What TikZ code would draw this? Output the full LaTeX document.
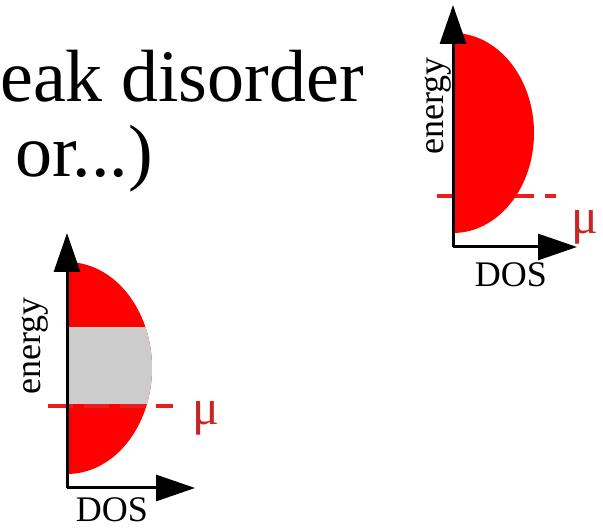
\documentclass[tikz,border=0pt]{standalone}
\usepackage{fontspec}
\setmainfont{Liberation Serif}
\usetikzlibrary{arrows.meta}
\definecolor{murd}{RGB}{200,38,38}
\definecolor{dashrd}{RGB}{232,30,30}
\definecolor{gapgray}{RGB}{204,204,204}

\begin{document}
\begin{tikzpicture}[x=1pt,y=1pt,
  axis/.style={line width=3pt,-{Triangle[length=39pt,width=26pt]}},
  lvl/.style={dashrd,line width=4pt,dash pattern=on 25pt off 11pt},
  lbl/.style={font=\fontsize{36}{36}\selectfont,inner sep=0pt},
  mu/.style={text=murd,font=\fontsize{50}{50}\selectfont,inner sep=0pt},
  ttl/.style={anchor=base west,inner sep=0pt,font=\fontsize{74}{74}\selectfont}]
\useasboundingbox (0,0) rectangle (603,529);
% title lines
\node[ttl] (ttlA) at (0,427) {eak disorder};
\node[ttl] (ttlB) at (15,352) {or...)};
% left DOS: band with a gap
\coordinate (oL) at (67,41);
\coordinate (eL) at (67,296);
\coordinate (dL) at (195,41);
\fill[red] (67,55) arc[start angle=-90,end angle=90,x radius=85,y radius=106] -- cycle;
\begin{scope}
  \clip (67,55) arc[start angle=-90,end angle=90,x radius=85,y radius=106] -- cycle;
  \fill[gapgray] (67,125) rectangle (160,202);
\end{scope}
\draw[lvl] (48,123) -- (173,123);
\draw[axis] (oL) -- (eL);
\draw[axis] (oL) -- (dL);
\node[lbl,rotate=90] (enL) at (35,183) {energy};
\node[lbl,anchor=base] (dosL) at (112,7) {DOS};
\node[mu] (muL) at (206,111) {μ};
% right DOS: metal
\coordinate (oR) at (453,282);
\coordinate (eR) at (453,524);
\coordinate (dR) at (577,282);
\draw[lvl] (437,333) -- (556,333);
\fill[red] (453,296) arc[start angle=-90,end angle=90,x radius=81,y radius=100] -- cycle;
\draw[axis] (oR) -- (eR);
\draw[axis] (oR) -- (dR);
\node[lbl,rotate=90] (enR) at (438,423) {energy};
\node[lbl] (dosR) at (511,254) {DOS};
\node[mu] (muR) at (585,302) {μ};
\end{tikzpicture}
\end{document}
